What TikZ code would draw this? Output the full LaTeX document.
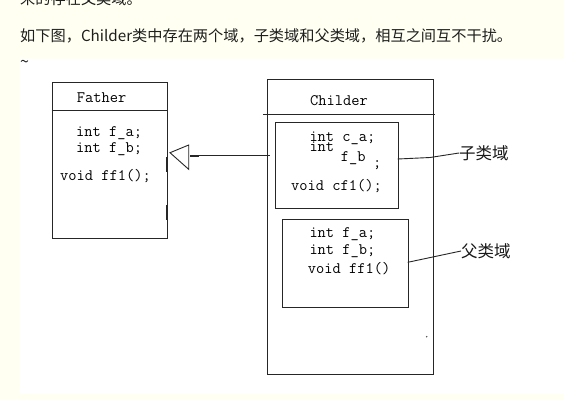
\documentclass[tikz,border=0pt]{standalone}
\usepackage{fontspec}
\newfontfamily\cjk{Noto Sans CJK SC}
\definecolor{cream}{RGB}{255,255,242}
\definecolor{ink}{RGB}{30,30,30}
\begin{document}
\begin{tikzpicture}[x=1pt,y=-1pt,
  box/.style={draw=black!85,line width=0.9pt,inner sep=0pt,anchor=north west},
  mono/.style={font=\fontsize{16}{18}\selectfont\ttfamily,inner sep=0pt,anchor=base west,text=black},
  lab/.style={font=\cjk\fontsize{16.5}{18}\selectfont,inner sep=0pt,anchor=west,text=black!90},
  para/.style={font=\cjk\fontsize{15.2}{18}\selectfont,inner sep=0pt,anchor=base west,text=ink},
  ln/.style={black!85,line width=0.9pt},
  thick mark/.style={black!85,line width=2pt}]
\useasboundingbox (0,0) rectangle (564,400);
\fill[cream] (0,0) rectangle (564,400);
\fill[white] (20,59) rectangle (564,394);
% paragraph text
\begin{scope}
\clip (0,0) rectangle (564,59);
\node[para] (prev) at (20,4) {来的存在父类域。};
\end{scope}
\node[para] (intro) at (20,41) {如下图，Childer类中存在两个域，子类域和父类域，相互之间互不干扰。};
\node[para,font=\cjk\fontsize{16}{18}\selectfont] (tilde) at (20,67) {\char"007E};
% Father class
\node[box,minimum width=115pt,minimum height=155.4pt] (father) at (51.7,82.3) {};
\coordinate (fhead) at (0,110.7);
\draw[ln] (father.west |- fhead) -- (father.east |- fhead);
\node[mono] (ftitle) at (76.7,102.7) {Father};
\node[mono] (fa) at (76,136) {int f\_a;};
\node[mono] (fb) at (76,152.3) {int f\_b;};
\node[mono] (ff) at (60,180) {void ff1();};
\draw[thick mark] (166.7,157) -- (166.7,172);
\draw[thick mark] (166.7,205) -- (166.7,220);
% Childer class
\node[box,minimum width=166pt,minimum height=294.7pt] (childer) at (266.7,79.3) {};
\coordinate (chl) at (263,114);
\coordinate (chr) at (435,114);
\draw[ln] (chl) -- (chr);
\node[mono] (ctitle) at (310,105) {Childer};
% sub-class field box
\node[box,minimum width=122.7pt,minimum height=86pt] (sub) at (275,121.7) {};
\node[mono] (ca) at (309.3,141.2) {int c\_a;};
\node[mono] (cint) at (309.3,151.5) {int};
\node[mono] (cfb) at (340.7,161) {f\_b};
\node[mono] (csemi) at (373,167) {;};
\node[mono] (cf) at (291,190) {void cf1();};
% parent-class field box
\node[box,minimum width=125.4pt,minimum height=87.4pt] (sup) at (282.3,219.3) {};
\draw[black!85,line width=1.6pt] (sup.north west) -- (sup.north east);
\node[mono] (pa) at (309.3,237.7) {int f\_a;};
\node[mono] (pb) at (309.3,254) {int f\_b;};
\node[mono] (pf) at (307.7,273.3) {void ff1()};
\fill[black!70] (426.7,336.7) circle (0.8pt);
% inheritance arrow
\coordinate (tip) at (170,152.7);
\coordinate (tu) at (188.7,145);
\coordinate (tl) at (188.7,169.3);
\coordinate (stemA) at (190,155.5);
\coordinate (stemB) at (199,155.5);
\coordinate (inh) at (270,155.5);
\draw[ln] (tu) -- (tip) -- (tl) -- cycle;
\draw[thick mark] (stemA) -- (stemB);
\draw[ln] (stemB) -- (inh);
% labels
\node[lab] (lab1) at (459,153) {子类域};
\node[lab] (lab2) at (461,251) {父类域};
\coordinate (l1s) at (397.7,159);
\coordinate (l1m) at (430,157.5);
\coordinate (l2s) at (407.7,262.3);
\draw[ln] (l1s) -- (l1m) -- (lab1.west);
\draw[ln] (l2s) -- (lab2.west);
\end{tikzpicture}
\end{document}
